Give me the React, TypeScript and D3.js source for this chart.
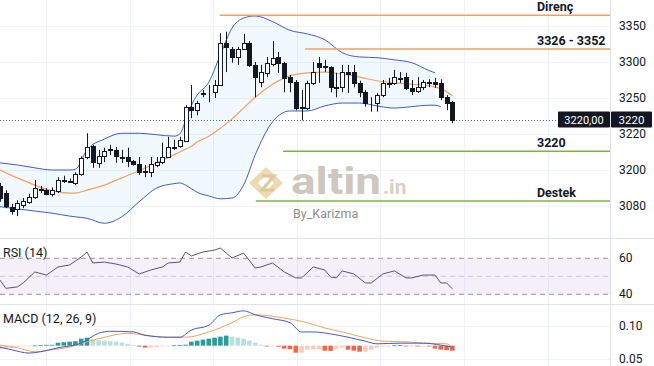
import React from 'react';
import * as d3 from 'd3';

const W = 654;
const H = 366;

// ---- Candles (price) ----
const candleOpen = [3128,3118,3099,3096,3101,3106,3113,3124,3122,3117,3121,3135,3135,3132,3144,3168,3183,3160,3169,3178,3178,3168,3168,3162,3158,3147,3147,3157,3161,3168,3182,3183,3190,3238,3233,3256,3258,3258,3268,3326,3318,3307,3318,3326,3296,3272,3285,3297,3307,3299,3279,3272,3236,3236,3271,3299,3293,3293,3265,3265,3286,3286,3271,3258,3244,3243,3254,3271,3271,3278,3279,3264,3260,3265,3271,3272,3271,3251,3244];
const candleHigh = [3132,3122,3103,3108,3111,3117,3136,3128,3125,3126,3140,3142,3138,3147,3169,3201,3185,3178,3181,3185,3182,3178,3181,3164,3168,3157,3168,3168,3188,3196,3192,3196,3240,3268,3246,3261,3268,3275,3340,3342,3321,3321,3339,3329,3300,3296,3307,3329,3314,3300,3282,3275,3261,3274,3300,3307,3303,3294,3285,3296,3296,3296,3274,3261,3251,3257,3275,3278,3289,3286,3285,3275,3279,3275,3276,3278,3276,3254,3246];
const candleLow = [3106,3097,3088,3086,3097,3103,3110,3118,3115,3113,3118,3132,3132,3129,3142,3165,3153,3153,3161,3171,3160,3160,3154,3156,3143,3140,3140,3154,3158,3167,3178,3181,3189,3222,3226,3251,3244,3250,3267,3286,3299,3296,3317,3293,3251,3265,3279,3294,3285,3258,3258,3233,3219,3233,3268,3271,3286,3258,3251,3258,3257,3265,3251,3238,3231,3231,3251,3264,3268,3271,3261,3254,3257,3261,3265,3264,3247,3233,3215];
const candleClose = [3111,3100,3093,3104,3107,3113,3125,3122,3117,3122,3136,3136,3133,3144,3167,3182,3161,3169,3176,3179,3169,3167,3162,3158,3147,3148,3158,3161,3168,3182,3181,3192,3238,3233,3243,3257,3259,3268,3326,3321,3307,3318,3326,3296,3279,3286,3299,3306,3299,3278,3272,3236,3238,3271,3286,3293,3294,3265,3264,3286,3283,3271,3258,3243,3245,3254,3271,3270,3279,3277,3264,3260,3265,3272,3272,3269,3251,3243,3219];

// ---- Bollinger bands (sampled) ----
const bandIdx = [0,3,6,9,12,13,15,18,21,24,27,30,31,32,33,34,36,38,40,42,44,47,50,53,56,59,62,65,68,71,74,75,76,78];
const bandUpper = [3160,3157,3153,3150,3150,3151,3178,3193,3201,3201,3199,3197,3200,3219,3240,3254,3272,3310,3347,3361,3364,3356,3344,3339,3331,3313,3307,3306,3303,3299,3288,3285,null,null];
const bandMiddle = [3150,3139,3129,3121,3118,3118,3122,3129,3139,3149,3160,3171,3175,3179,3183,3189,3197,3208,3221,3236,3251,3269,3281,3285,3286,3283,3279,3274,3271,3269,3267,3265,3263,3253];
const bandLower = [3099,3096,3093,3090,3086,3085,3083,3076,3085,3106,3125,3131,3132,3129,3124,3119,3114,3110,3111,3129,3171,3217,3232,3232,3239,3243,3243,3239,3236,3238,3240,3240,3238,null];

// ---- Price axis ----
const priceTicks = [3350,3300,3250,3200,3150,3100];
const priceTickLabels = ['3350','3300','3250','3220','3200','3080'];
const lastPrice = 3220;
const lastPriceLabel = '3220,00';
const lastPriceShort = '3220';

// ---- Levels ----
const levelPrice = [3365, 3318, 3176, 3107];
const levelStart = [37.9, 52.6, 48.8, 44.1];
const levelLabel = ['Direnç', '3326 - 3352', '3220', 'Destek'];
const levelKind = ['res', 'res', 'sup', 'sup'];

// ---- Time grid (index positions) ----
const gridIdx = [8, 22.4, 36.8, 51.2, 65.6, 80, 94.4];

// ---- RSI ----
const rsiIdx = [0,1,3,4,6,8,10,12,14,15,16,18,20,22,24,26,28,29,31,32,33,35,37,38,40,42,44,45,47,49,51,52,54,56,57,58,59,61,63,64,66,68,70,71,73,75,76,77,78];
const rsiVal = [47.9,43.3,44.1,46.3,52.4,50.7,55.2,56.3,60.7,63.5,57.4,57.9,56.8,55.2,51.3,53.5,55.2,57.4,57.9,63.5,61.3,63.5,64.6,65.7,60.2,62.9,54.6,55.2,57.4,52.4,49.1,49.1,55.2,53.5,49.6,49.1,53,51.3,46.3,46.3,51.3,53,49.1,49.1,50.7,50.7,46.3,46.3,43];
const rsiTicks = [60, 40];
const rsiBands = [60, 50, 40];

// ---- MACD ----
const macdIdx = [0,2,5,7,10,14,17,19,23,25,29,31,33,36,38,40,42,44,47,50,52,54,57,60,63,65,69,73,76,78];
const macdVal = [0.068,0.064,0.059,0.061,0.067,0.074,0.089,0.092,0.091,0.086,0.083,0.083,0.094,0.101,0.117,0.120,0.123,0.117,0.111,0.105,0.091,0.091,0.088,0.083,0.077,0.073,0.074,0.074,0.071,0.068];
const sigIdx = [0,3,6,9,12,15,18,22,25,29,32,36,40,42,44,49,53,56,59,63,66,70,73,77,78];
const sigVal = [0.071,0.067,0.061,0.064,0.068,0.076,0.083,0.089,0.086,0.083,0.083,0.091,0.105,0.114,0.117,0.112,0.105,0.097,0.091,0.082,0.077,0.076,0.074,0.073,0.068];
const histBase = 0.0702;
const hist = [-0.0053,-0.0045,-0.0030,-0.0015,-0.0008,-0.0005,0.0003,0.0008,0.0012,0.0012,0.0045,0.0053,0.0061,0.0068,0.0106,0.0121,0.0091,0.0083,0.0076,0.0068,0.0061,0.0045,0.0030,0.0008,-0.0015,-0.0030,-0.0030,-0.0023,-0.0011,-0.0005,0.0005,0.0008,0.0015,0.0061,0.0076,0.0091,0.0106,0.0121,0.0136,0.0152,0.0136,0.0121,0.0106,0.0076,0.0045,0.0015,-0.0008,-0.0008,-0.0015,-0.0045,-0.0053,-0.0106,-0.0106,-0.0061,-0.0058,-0.0053,-0.0076,-0.0079,-0.0045,-0.0030,-0.0061,-0.0076,-0.0091,-0.0091,-0.0061,-0.0030,-0.0015,-0.0008,0.0005,0.0008,-0.0008,-0.0005,-0.0008,-0.0005,-0.0008,-0.0045,-0.0061,-0.0068,-0.0076];
const macdTicks = [0.10, 0.05];
const macdTickLabels = ['0.10', '0.05'];

const FONT = "Roboto, 'Noto Sans', Arial, sans-serif";
const TXT = '#131722';

export default function App() {
  const plotR = 610.5;
  const x = d3.scaleLinear().domain([0, 100]).range([0, 580]);
  const y = d3.scaleLinear().domain([3100, 3350]).range([206, 26]);
  const rsiY = d3.scaleLinear().domain([40, 60]).range([294.3, 258.3]);
  const mY = d3.scaleLinear().domain([0.05, 0.10]).range([359, 326]);

  const bandPts = bandIdx.map((i, k) => ({ i, u: bandUpper[k], m: bandMiddle[k], l: bandLower[k] }));
  const area = d3.area<any>()
    .defined(d => d.u != null && d.l != null)
    .x(d => x(d.i)).y0(d => y(d.l)).y1(d => y(d.u)).curve(d3.curveMonotoneX);
  const lineU = d3.line<any>().defined(d => d.u != null).x(d => x(d.i)).y(d => y(d.u)).curve(d3.curveMonotoneX);
  const lineM = d3.line<any>().defined(d => d.m != null).x(d => x(d.i)).y(d => y(d.m)).curve(d3.curveMonotoneX);
  const lineL = d3.line<any>().defined(d => d.l != null).x(d => x(d.i)).y(d => y(d.l)).curve(d3.curveMonotoneX);

  const rsiLine = d3.line<number>().x((_, k) => x(rsiIdx[k])).y(v => rsiY(v));
  const macdLine = d3.line<number>().x((_, k) => x(macdIdx[k])).y(v => mY(v)).curve(d3.curveMonotoneX);
  const sigLine = d3.line<number>().x((_, k) => x(sigIdx[k])).y(v => mY(v)).curve(d3.curveMonotoneX);

  const histColor = (k: number) => {
    const v = hist[k];
    const p = k > 0 ? hist[k - 1] : v;
    if (v >= 0) return p <= v ? '#2a9d98' : '#b7dfdc';
    return p <= v ? '#fbcabd' : '#f2674a';
  };

  const lastY = y(lastPrice);

  return (
    <svg width={W} height={H} style={{ position: 'absolute', left: 0, top: 0, background: '#fff' }} fontFamily={FONT}>
      <rect x={0} y={0} width={W} height={H} fill="#fff" />
      {/* grid: main */}
      {priceTicks.map((t, k) => (
        <line key={'pg' + k} x1={0} x2={plotR} y1={Math.round(y(t)) + 0.5} y2={Math.round(y(t)) + 0.5} stroke="#f0f3fa" />
      ))}
      {gridIdx.map((g, k) => (
        <line key={'vg' + k} x1={Math.round(x(g)) + 0.5} x2={Math.round(x(g)) + 0.5} y1={0} y2={H} stroke="#f0f3fa" />
      ))}
      <line x1={0} x2={plotR} y1={Math.round(mY(0.10)) + 0.5} y2={Math.round(mY(0.10)) + 0.5} stroke="#f0f3fa" />
      <line x1={0} x2={plotR} y1={Math.round(mY(0.05)) + 0.5} y2={Math.round(mY(0.05)) + 0.5} stroke="#f0f3fa" />

      {/* Bollinger */}
      <path d={area(bandPts) || ''} fill="rgba(33,150,243,0.06)" />
      <path d={lineU(bandPts) || ''} fill="none" stroke="#3f5bc9" strokeWidth={1} />
      <path d={lineL(bandPts) || ''} fill="none" stroke="#3f5bc9" strokeWidth={1} />
      <path d={lineM(bandPts) || ''} fill="none" stroke="#f0a25e" strokeWidth={1.2} />

      {/* watermark */}
      <g opacity={0.9}>
        <path d="M266,167 L283,183 L266,199 L249,183 Z M266,175 L258,183 L266,191 L274,183 Z" fill="#ead7ad" fillRule="evenodd" />
        <path d="M262,176 L274,176 L262,190 L274,190" fill="none" stroke="#dcc28e" strokeWidth={3} />
        <text x={291} y={194} fontSize={37} fontWeight={700} fill="#c9c2b6" textLength={90} lengthAdjust="spacingAndGlyphs">altin</text>
        <text x={383} y={194} fontSize={21} fontWeight={700} fill="#d3cdc3">.in</text>
      </g>
      <text x={293} y={218} fontSize={12.5} fill="#8c8c8c">By_Karizma</text>

      {/* level lines */}
      {levelPrice.map((p, k) => (
        <g key={'lv' + k}>
          <line x1={x(levelStart[k])} x2={plotR - 0.5} y1={y(p)} y2={y(p)} stroke={levelKind[k] === 'res' ? '#f0a060' : '#7cb342'} strokeWidth={1.5} />
          <text x={537} y={y(p) - 4} fontSize={12.5} fontWeight={700} fill={TXT}>{levelLabel[k]}</text>
        </g>
      ))}

      {/* last price dotted */}
      <line x1={0} x2={558} y1={Math.round(lastY) + 0.5} y2={Math.round(lastY) + 0.5} stroke="#5d606b" strokeDasharray="1,2" />

      {/* candles */}
      {candleOpen.map((o, i) => {
        const c = candleClose[i];
        const cx = Math.round(x(i));
        const up = c >= o;
        const top = Math.round(y(Math.max(o, c)));
        const bot = Math.round(y(Math.min(o, c)));
        return (
          <g key={'c' + i}>
            <line x1={cx + 0.5} x2={cx + 0.5} y1={y(candleHigh[i])} y2={y(candleLow[i])} stroke="#131722" strokeWidth={1} />
            <rect x={cx - 1.5} y={top + 0.5} width={4} height={Math.max(bot - top, 0)} fill={up ? '#ffffff' : '#131722'} stroke="#131722" strokeWidth={1} />
          </g>
        );
      })}

      {/* pane separators */}
      <line x1={0} x2={W} y1={238.5} y2={238.5} stroke="#e0e3eb" />
      <line x1={0} x2={W} y1={304.5} y2={304.5} stroke="#e0e3eb" />
      <line x1={plotR} x2={plotR} y1={0} y2={H} stroke="#e0e3eb" />

      {/* RSI */}
      <rect x={0} y={rsiY(60)} width={plotR} height={rsiY(40) - rsiY(60)} fill="rgba(126,87,194,0.09)" />
      {rsiBands.map((b, k) => (
        <line key={'rb' + k} x1={0} x2={plotR} y1={rsiY(b)} y2={rsiY(b)} stroke={k === 1 ? '#c9c6d6' : '#9598a1'} strokeDasharray="5,4" strokeWidth={1} />
      ))}
      <path d={rsiLine(rsiVal) || ''} fill="none" stroke="#5a5470" strokeWidth={1} />
      <text x={3} y={257} fontSize={12.5} fill={TXT}>RSI (14)</text>
      {rsiTicks.map((t, k) => (
        <text key={'rt' + k} x={619} y={rsiY(t) + 4} fontSize={12} fill={TXT}>{t}</text>
      ))}

      {/* MACD */}
      {hist.map((h, k) => {
        const y0 = mY(histBase);
        const y1 = mY(histBase + h);
        return (
          <rect key={'h' + k} x={x(k) - 2.3} y={Math.min(y0, y1)} width={4.6} height={Math.max(Math.abs(y1 - y0), 0.8)} fill={histColor(k)} />
        );
      })}
      <path d={sigLine(sigVal) || ''} fill="none" stroke="#f0a25e" strokeWidth={1} />
      <path d={macdLine(macdVal) || ''} fill="none" stroke="#3f5bc9" strokeWidth={1} />
      <text x={3} y={323} fontSize={12.5} fill={TXT}>MACD (12, 26, 9)</text>
      {macdTicks.map((t, k) => (
        <text key={'mt' + k} x={619} y={mY(t) + 4} fontSize={12} fill={TXT}>{macdTickLabels[k]}</text>
      ))}

      {/* price axis labels */}
      {priceTicks.map((t, k) => (
        <text key={'pt' + k} x={619} y={y(t) + 4} fontSize={12} fill={TXT}>{priceTickLabels[k]}</text>
      ))}

      {/* last price labels */}
      <rect x={558} y={lastY - 8} width={52} height={16} fill="#131722" rx={1} />
      <text x={584} y={lastY + 4} fontSize={11} fill="#fff" textAnchor="middle">{lastPriceLabel}</text>
      <rect x={611} y={lastY - 8} width={41} height={16} fill="#131722" rx={1} />
      <text x={631.5} y={lastY + 4} fontSize={11.5} fill="#fff" textAnchor="middle">{lastPriceShort}</text>
    </svg>
  );
}
